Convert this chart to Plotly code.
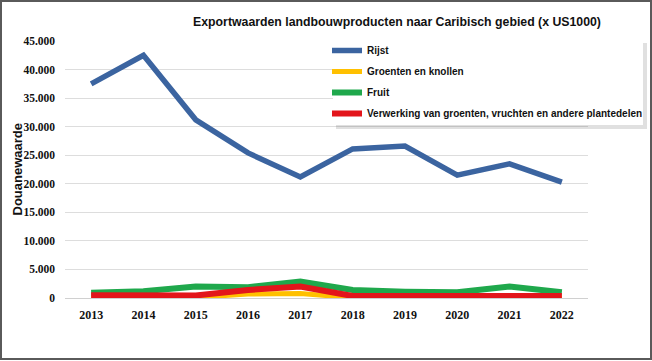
import plotly.graph_objects as go

years = ["2013", "2014", "2015", "2016", "2017", "2018", "2019", "2020", "2021", "2022"]
rijst = [37500, 42500, 31200, 25400, 21200, 26100, 26600, 21500, 23500, 20300]
groenten = [100, 100, 100, 700, 800, 50, 50, 50, 50, 50]
fruit = [900, 1200, 2000, 1900, 2900, 1400, 1100, 1000, 2000, 1000]
verwerking = [500, 450, 450, 1400, 2000, 350, 350, 350, 350, 350]

names = ["Rijst", "Groenten en knollen", "Fruit",
         "Verwerking van groenten, vruchten en andere plantedelen"]
colors = ["#3B64A0", "#FFC000", "#1FA84C", "#E3151B"]
series = [rijst, groenten, fruit, verwerking]
widths = [5.5, 5, 6, 6]

fig = go.Figure()
for i, (name, vals, col, w) in enumerate(zip(names, series, colors, widths)):
    fig.add_trace(go.Scatter(x=years, y=vals, name=name, mode="lines",
                             legendgroup="g%d" % i,
                             line=dict(color=col, width=w)))

W, H = 652, 361
L, R, T, B = 65, 64, 41, 63
pw = W - L - R
ph = H - T - B

def px(x):
    return (x - L) / pw

def py(y):
    return (H - B - y) / ph

shapes = [
    dict(type="rect", xref="paper", yref="paper", layer="above",
         x0=px(336), x1=px(647), y0=py(129), y1=py(43),
         fillcolor="rgba(0,0,0,0.12)", line=dict(width=0)),
    dict(type="rect", xref="paper", yref="paper", layer="above",
         x0=px(333), x1=px(643), y0=py(125), y1=py(40),
         fillcolor="white", line=dict(width=0)),
    dict(type="rect", xref="paper", yref="paper", layer="above",
         x0=px(1), x1=px(W - 1), y0=py(H - 2), y1=py(1),
         line=dict(color="#5A5A5A", width=2), fillcolor="rgba(0,0,0,0)"),
]

fig.update_layout(
    width=W, height=H,
    margin=dict(l=L, r=R, t=T, b=B, autoexpand=False),
    paper_bgcolor="white", plot_bgcolor="white",
    separators=",.",
    title=dict(text="<b>Exportwaarden landbouwproducten naar Caribisch gebied (x US1000)</b>",
               x=397 / W, xanchor="center", y=1 - 22 / H, yanchor="middle",
               font=dict(family="Liberation Sans, Arial", size=12.3, color="#111")),
    xaxis=dict(type="category", range=[-0.5, 9.5], showgrid=False,
               showline=True, linecolor="#D0D0D0", linewidth=1,
               ticks="", automargin=False, ticklabelstandoff=6,
               tickfont=dict(family="Liberation Serif, Times New Roman", size=12,
                             color="#111", weight="bold")),
    yaxis=dict(range=[0, 45000], dtick=5000, tickformat=",d",
               showgrid=True, gridcolor="#DDDDDD", gridwidth=1,
               zeroline=False, showline=False, automargin=False,
               ticks="", ticklabelstandoff=9,
               tickfont=dict(family="Liberation Serif, Times New Roman", size=11.5,
                             color="#111", weight="bold")),
    legend=dict(x=px(327), y=py(36), xanchor="left", yanchor="top",
                bgcolor="rgba(0,0,0,0)", borderwidth=0,
                font=dict(family="Liberation Sans, Arial", size=10, color="#111", weight="bold"),
                itemwidth=30, tracegroupgap=2),
    shapes=shapes,
    annotations=[dict(text="<b>Douanewaarde</b>", xref="paper", yref="paper",
                      x=px(17), y=0.5, xanchor="center", yanchor="middle",
                      textangle=-90, showarrow=False,
                      font=dict(family="Liberation Sans, Arial", size=13, color="#111"))],
)

fig.write_html("out.html", config={"displayModeBar": False},
               post_script="document.body.style.margin='0';document.body.style.overflow='hidden';")
